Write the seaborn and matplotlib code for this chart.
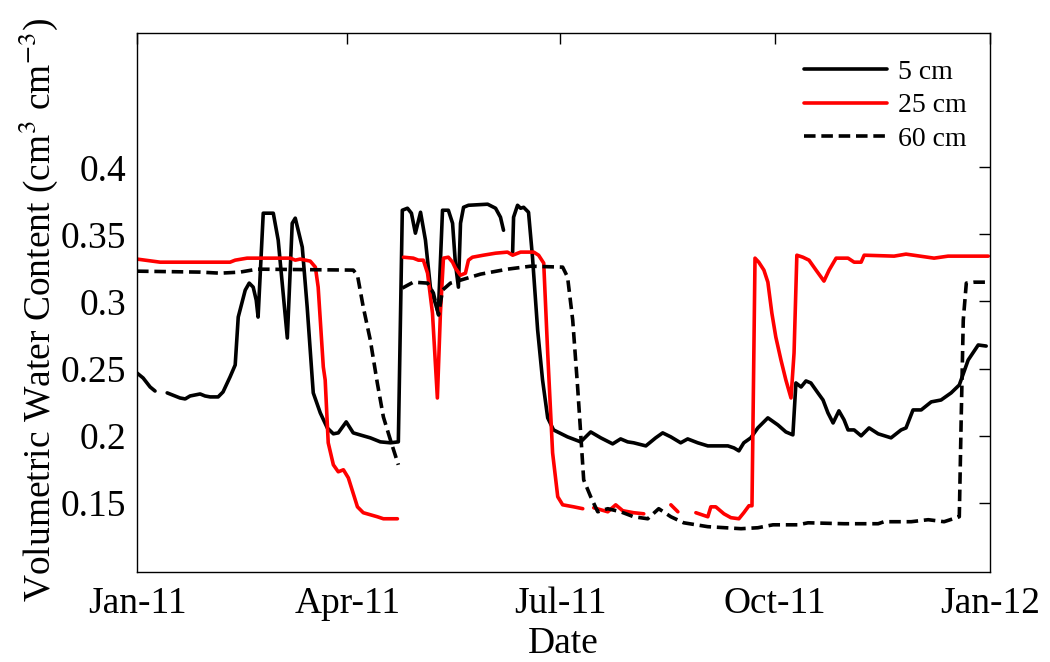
import numpy as np
import pandas as pd
import matplotlib
matplotlib.use("Agg")
import matplotlib.pyplot as plt
import matplotlib.dates as mdates
from matplotlib.lines import Line2D
import seaborn as sns

# days since 2011-01-01, NaN = gap in the record
days_5cm = [0, 2.6, 5.6, 7.7, np.nan, 12.9, 18.4, 20.6, 22.7, 27.0, 29.1, 31.3, 34.7, 36.8, 39.8,
            42.0, 43.3, 46.3, 48.0, 49.7, 51.0, 51.8, 54.0, 58.3, 60.4, 64.3, 66.4, 67.7, 70.7,
            72.8, 75.0, 75.4, 78.4, 81.4, 84.0, 86.1, 89.5, 92.5, 96.8, 99.8, 104.1, 108.4, 111.8,
            113.5, 115.7, 117.4, 119.1, 121.3, 123.4, 125.5, 128.9, 130.7, 133.2, 135.0, 136.2,
            137.5, 138.4, 139.7, 141.8, 150.0, 153.4, 155.5, 156.8, np.nan, 160.7, 161.1, 162.8,
            164.1, 165.4, 167.5, 169.2, 171.4, 173.5, 175.7, 178.2, 184.2, 189.8, 194.1, 198.4,
            203.5, 206.9, 209.9, 212.5, 217.7, 221.9, 224.9, 228.4, 232.6, 235.6, 239.9, 244.2,
            252.8, 255.4, 257.5, 259.6, 262.6, 265.6, 269.9, 274.2, 277.6, 280.6, 281.9, 284.1,
            286.2, 288.3, 291.3, 293.5, 295.6, 297.8, 300.3, 302.5, 304.2, 306.8, 309.8, 313.2,
            317.1, 322.6, 326.9, 329.0, 332.0, 335.5, 339.8, 344.0, 348.3, 351.8, 355.6, 359.9, 363.3]
vwc_5cm = [0.2467, 0.243, 0.2363, 0.2333, np.nan, 0.2319, 0.2281, 0.2274, 0.2296, 0.2311, 0.2296,
           0.2289, 0.2289, 0.2326, 0.2438, 0.2527, 0.2884, 0.3085, 0.3137, 0.3107, 0.301, 0.2884,
           0.3658, 0.3658, 0.3457, 0.2728, 0.3583, 0.3621, 0.3405, 0.2958, 0.2415, 0.2319, 0.217,
           0.2058, 0.2014, 0.2021, 0.2103, 0.2021, 0.1999, 0.1984, 0.1954, 0.1947, 0.1954, 0.368,
           0.3695, 0.3658, 0.3509, 0.3665, 0.3457, 0.3107, 0.2914, 0.368, 0.368, 0.3583, 0.3286,
           0.3107, 0.3583, 0.3702, 0.3717, 0.3725, 0.3695, 0.3628, 0.3531, np.nan, 0.3368, 0.3628,
           0.3717, 0.3695, 0.3702, 0.3665, 0.333, 0.2787, 0.2415, 0.2133, 0.2043, 0.1991, 0.1954,
           0.2028, 0.1984, 0.1939, 0.1976, 0.1954, 0.1947, 0.1924, 0.1984, 0.2021, 0.1991, 0.1947,
           0.1976, 0.1947, 0.1924, 0.1924, 0.1909, 0.1887, 0.1947, 0.1984, 0.2058, 0.2133, 0.208,
           0.2028, 0.2006, 0.2393, 0.2363, 0.2408, 0.2393, 0.2319, 0.2266, 0.217, 0.2095, 0.2185,
           0.2118, 0.2043, 0.2043, 0.1999, 0.2058, 0.2014, 0.1984, 0.2043, 0.2058, 0.2192, 0.2192,
           0.2252, 0.2266, 0.2319, 0.2378, 0.2564, 0.2676, 0.2668]

days_25cm = [0, 9.9, 39.8, 42.0, 47.1, 65.6, 67.7, 69.8, 74.1, 76.3, 77.5, 79.7, 80.5, 81.8, 84.0,
             86.1, 88.3, 90.4, 94.3, 96.8, 102.8, 105.4, 111.4, np.nan, 114.0, 118.2, 120.4, 122.5,
             124.3, 126.4, 128.5, 129.8, 131.1, 133.2, 135.0, 136.2, 138.4, 140.5, 141.8, 143.5,
             148.2, 153.4, 158.5, 160.7, 164.1, 169.7, 171.8, 174.0, 175.7, 177.8, 180.0, 182.1,
             186.8, 190.7, np.nan, 195.4, 201.4, 204.8, 207.8, 212.5, 216.8, np.nan, 228.4, 231.4,
             np.nan, 239.1, 244.2, 245.5, 247.6, 251.1, 254.1, 257.5, 259.6, 261.8, 263.1, 264.4,
             266.0, 268.2, 269.9, 271.6, 273.3, 275.5, 277.6, 279.8, 281.1, 282.3, 284.9, 287.5,
             290.5, 293.9, 296.1, 299.1, 304.2, 306.8, 309.8, 311.1, 323.9, 329.0, 341.0, 347.0, 364.2]
vwc_25cm = [0.3316, 0.3293, 0.3293, 0.3308, 0.3323, 0.3323, 0.3308, 0.3316, 0.3301, 0.3256, 0.3107,
            0.2512, 0.2415, 0.1947, 0.1783, 0.1731, 0.1746, 0.1686, 0.147, 0.1426, 0.1396, 0.1381,
            0.1381, np.nan, 0.333, 0.3323, 0.3308, 0.3308, 0.3211, 0.2914, 0.2281, 0.2914, 0.3323,
            0.333, 0.3293, 0.3249, 0.3196, 0.3211, 0.3308, 0.333, 0.3345, 0.336, 0.3368, 0.3345,
            0.3368, 0.3368, 0.3345, 0.3286, 0.2616, 0.1872, 0.1545, 0.1485, 0.147, 0.1456, np.nan,
            0.1463, 0.1433, 0.1485, 0.1441, 0.1426, 0.1418, np.nan, 0.1485, 0.1433, np.nan, 0.1426,
            0.1396, 0.147, 0.147, 0.1418, 0.1389, 0.1381, 0.1426, 0.1478, 0.1478, 0.3323, 0.3293,
            0.3234, 0.3144, 0.2914, 0.2735, 0.2564, 0.2415, 0.2281, 0.2616, 0.3345, 0.333, 0.3308,
            0.3234, 0.3152, 0.3234, 0.3323, 0.3323, 0.3293, 0.3293, 0.3345, 0.3338, 0.3353, 0.3323,
            0.3338, 0.3338]

days_60cm = [0, 27.0, 35.6, 44.1, 51.4, 92.5, 94.3, 96.8, 99.8, 102.8, 105.4, 108.4, 111.8, np.nan,
             113.5, 118.2, 124.3, 126.8, 129.0, 130.7, 134.1, 138.4, 147.0, 158.5, 168.4, 182.1,
             184.2, 186.4, 188.5, 189.8, 191.1, 194.1, 197.1, 201.4, 206.9, 212.5, 218.5, 223.2,
             228.4, 233.9, 244.2, 258.4, 265.6, 272.1, 282.8, 287.1, 302.5, 317.1, 319.6, 331.2,
             338.5, 345.3, 351.8, 352.6, 353.5, 354.8, 358.2, 364.2]
vwc_60cm = [0.3226, 0.3219, 0.3211, 0.3219, 0.3241, 0.3234, 0.3196, 0.2958, 0.2713, 0.2393, 0.214,
            0.1969, 0.1783, np.nan, 0.31, 0.3144, 0.3137, 0.3063, 0.2899, 0.3085, 0.3137, 0.3159,
            0.3204, 0.3241, 0.3263, 0.3256, 0.3182, 0.2862, 0.2363, 0.2021, 0.1671, 0.1545, 0.1433,
            0.1456, 0.1433, 0.1396, 0.1381, 0.1456, 0.1396, 0.1351, 0.1322, 0.1307, 0.1314, 0.1336,
            0.1336, 0.1351, 0.1344, 0.1344, 0.1359, 0.1359, 0.1374, 0.1359, 0.1396, 0.2118, 0.2862,
            0.3137, 0.3144, 0.3144]

depths = ["5 cm", "25 cm", "60 cm"]
colors = {"5 cm": "black", "25 cm": "#ff0000", "60 cm": "black"}
dashes = {"5 cm": "", "25 cm": "", "60 cm": (3.2, 1.6)}
tick_dates = ["2011-01-01", "2011-04-01", "2011-07-01", "2011-10-01", "2012-01-01"]
yticks = [0.15, 0.2, 0.25, 0.3, 0.35, 0.4]
ytick_labels = ["0.15", "0.2", "0.25", "0.3", "0.35", "0.4"]

start = pd.Timestamp("2011-01-01")
frames = []
for name, d, v in zip(depths, [days_5cm, days_25cm, days_60cm], [vwc_5cm, vwc_25cm, vwc_60cm]):
    df = pd.DataFrame({"day": d, "vwc": v})
    # split each series at the gaps so each piece is its own line
    df["seg"] = name + "_" + df["vwc"].isna().cumsum().astype(str)
    df = df.dropna()
    df["depth"] = name
    df["date"] = start + pd.to_timedelta(df["day"], unit="D")
    frames.append(df)
data = pd.concat(frames, ignore_index=True)

sns.set_style("white")
plt.rcParams["font.family"] = ["Liberation Serif", "DejaVu Serif"]
plt.rcParams["mathtext.fontset"] = "stix"
plt.rcParams["text.color"] = "black"
plt.rcParams["axes.labelcolor"] = "black"
plt.rcParams["xtick.color"] = "black"
plt.rcParams["ytick.color"] = "black"

lw = 2.6
fig = plt.figure(figsize=(10.5, 6.62), dpi=100)
ax = fig.add_axes([0.1305, 0.1365, 0.8125, 0.8135])

sns.lineplot(data=data, x="date", y="vwc", hue="depth", style="depth", units="seg",
             estimator=None, palette=colors, dashes=dashes, linewidth=lw,
             hue_order=depths, style_order=depths, legend=False, ax=ax)

ax.set_xlim(pd.Timestamp("2011-01-01"), pd.Timestamp("2012-01-01"))
ax.set_ylim(0.0987, 0.5)
ax.set_xticks([pd.Timestamp(t) for t in tick_dates])
ax.xaxis.set_major_formatter(mdates.DateFormatter("%b-%y"))
ax.set_yticks(yticks)
ax.set_yticklabels(ytick_labels)
ax.tick_params(direction="in", top=True, right=True, length=8, width=1,
               labelsize=27, color="black", labelcolor="black")
ax.tick_params(axis="x", pad=11)
ax.tick_params(axis="y", pad=8)
for s in ax.spines.values():
    s.set_color("black")
    s.set_linewidth(1.0)

ax.set_xlabel("Date", fontsize=27, labelpad=4)
ax.set_ylabel("Volumetric Water Content (cm$^{3}$ cm$^{-3}$)", fontsize=27, labelpad=0)
ax.yaxis.label.set_y(0.487)

handles = [Line2D([], [], color="black", lw=lw),
           Line2D([], [], color="#ff0000", lw=lw),
           Line2D([], [], color="black", lw=lw, linestyle=(0, (3.2, 1.6)))]
ax.legend(handles, depths, loc="upper left", bbox_to_anchor=(0.752, 0.998), frameon=False,
          fontsize=20, handlelength=3.0, handletextpad=0.4, labelspacing=0.3)

fig.savefig("out.png", dpi=100)
